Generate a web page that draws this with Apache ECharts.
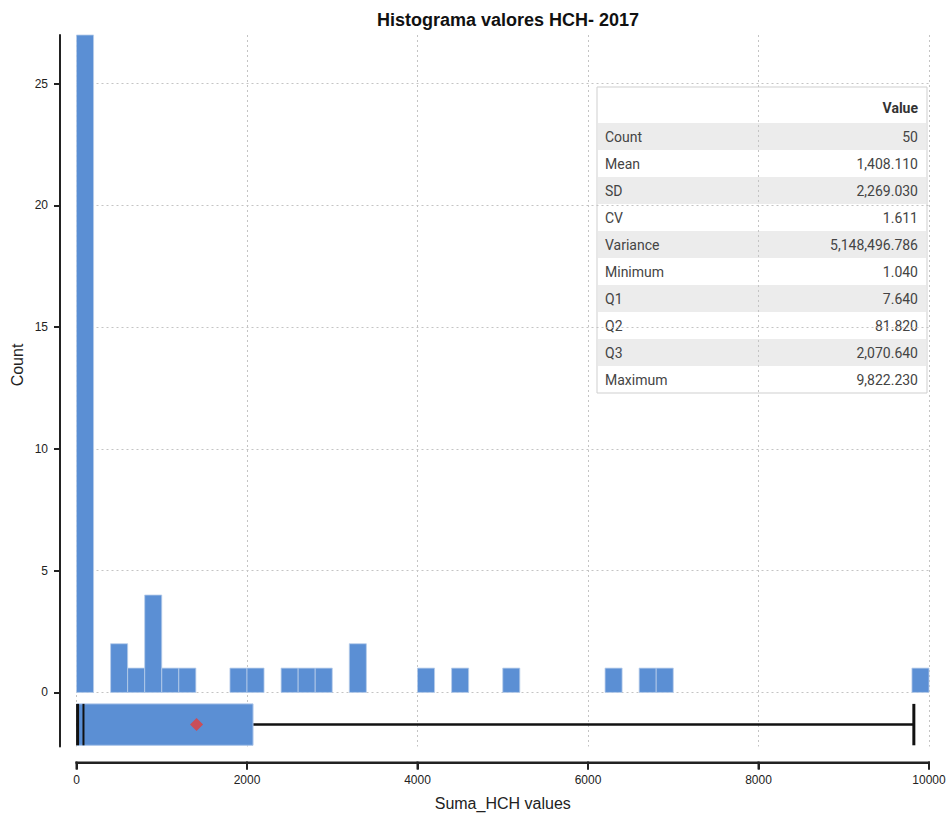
<!DOCTYPE html>
<html>
<head>
<meta charset="utf-8">
<script src="https://cdn.jsdelivr.net/npm/echarts@6/dist/echarts.min.js"></script>
<style>
  html, body { margin: 0; padding: 0; background: #fff; }
  #chart { width: 950px; height: 814px; }
</style>
</head>
<body>
<div id="chart"></div>
<script>
// histogram bins (width 200, start of each non-empty bin) and counts
const binWidth = 200
const binStart = [0, 400, 600, 800, 1000, 1200, 1800, 2000, 2400, 2600, 2800, 3200, 4000, 4400, 5000, 6200, 6600, 6800, 9800]
const binCount = [27, 2, 1, 4, 1, 1, 1, 1, 1, 1, 1, 2, 1, 1, 1, 1, 1, 1, 1]

// boxplot: min, q1, median, q3, max and the mean
const boxStats = [1.04, 7.64, 81.82, 2070.64, 9822.23]
const meanValue = 1408.11

// summary table
const statLabels = ['Count', 'Mean', 'SD', 'CV', 'Variance', 'Minimum', 'Q1', 'Q2', 'Q3', 'Maximum']
const statValues = ['50', '1,408.110', '2,269.030', '1.611', '5,148,496.786', '1.040', '7.640', '81.820', '2,070.640', '9,822.230']

const xTicks = [0, 2000, 4000, 6000, 8000, 10000]
const yTicks = [0, 5, 10, 15, 20, 25]

const blue = '#5b8fd4'
const axisColor = '#222'
const font = 'Liberation Sans, Arial, sans-serif'

const chart = echarts.init(document.getElementById('chart'), null, { renderer: 'svg' })

// table graphic
const tLeft = 597, tTop = 87, tWidth = 330, headH = 36, rowH = 27
const tableChildren = [{
  type: 'rect',
  shape: { x: 0, y: 0, width: tWidth, height: headH + rowH * statLabels.length },
  style: { fill: '#fff', stroke: '#cfcfcf', lineWidth: 1 }
}, {
  type: 'text',
  style: { x: tWidth - 9, y: 21, text: 'Value', align: 'right', verticalAlign: 'middle',
    font: 'bold 14px Roboto, sans-serif', fill: '#333' }
}]
statLabels.forEach((lab, i) => {
  const y = headH + i * rowH
  if (i % 2 === 0) {
    tableChildren.push({
      type: 'rect',
      shape: { x: 1, y: y, width: tWidth - 2, height: rowH },
      style: { fill: '#ececec' }
    })
  }
  tableChildren.push({
    type: 'text',
    style: { x: 8, y: y + 13.5, text: lab, align: 'left', verticalAlign: 'middle',
      font: '14px Roboto, sans-serif', fill: '#444' }
  })
  tableChildren.push({
    type: 'text',
    style: { x: tWidth - 9, y: y + 13.5, text: statValues[i], align: 'right', verticalAlign: 'middle',
      font: '14px Roboto, sans-serif', fill: '#444' }
  })
})

const boxY = -1.32
const boxHalf = 0.85
const yMin = -2.22
const xOffset = 16

const option = {
  animation: false,
  title: {
    text: 'Histograma valores HCH- 2017',
    left: 503,
    textAlign: 'center',
    top: 6,
    textStyle: { fontFamily: font, fontSize: 18, fontWeight: 'bold', color: '#111' }
  },
  grid: { left: 76.5, right: 21, top: 35, bottom: 67.5, outerBoundsMode: 'none' },
  xAxis: {
    type: 'value',
    min: 0,
    max: 10000,
    interval: 2000,
    offset: xOffset,
    name: 'Suma_HCH values',
    nameLocation: 'middle',
    nameGap: 33,
    nameTextStyle: { fontFamily: font, fontSize: 16, color: '#222' },
    axisLine: { show: true, onZero: false, lineStyle: { color: axisColor, width: 2 } },
    axisTick: { show: true, length: 7, lineStyle: { color: axisColor, width: 2 } },
    axisLabel: { fontFamily: font, fontSize: 12, color: '#222', margin: 11,
      formatter: v => String(v) },
    splitLine: { show: true, lineStyle: { color: '#c4c4c4', type: [2, 3], width: 1 } }
  },
  yAxis: {
    type: 'value',
    min: yMin,
    max: 27,
    offset: 16.5,
    axisLine: { show: true, onZero: false, lineStyle: { color: axisColor, width: 2 } },
    axisTick: { show: true, length: 6, lineStyle: { color: axisColor, width: 2 },
      customValues: yTicks },
    axisLabel: { fontFamily: font, fontSize: 12, color: '#222', margin: 12,
      customValues: yTicks },
    splitLine: { show: true, lineStyle: { color: '#c4c4c4', type: [2, 3], width: 1 } }
  },
  graphic: [{
    type: 'text',
    x: 17,
    y: 365,
    rotation: Math.PI / 2,
    style: { text: 'Count', align: 'center', verticalAlign: 'middle',
      font: '16px ' + font, fill: '#222' }
  }, {
    type: 'group',
    x: tLeft,
    y: tTop,
    z: 100,
    children: tableChildren
  }],
  series: [{
    type: 'custom',
    name: 'hist',
    data: binStart.map((s, i) => [s, s + binWidth, binCount[i]]),
    renderItem: (params, api) => {
      const p0 = api.coord([api.value(0), api.value(2)])
      const p1 = api.coord([api.value(1), 0])
      return {
        type: 'rect',
        shape: { x: p0[0], y: p0[1], width: p1[0] - p0[0], height: p1[1] - p0[1] },
        style: { fill: blue, stroke: '#b8cdea', lineWidth: 0.8 }
      }
    }
  }, {
    type: 'custom',
    name: 'box',
    data: [boxStats],
    renderItem: (params, api) => {
      const top = boxY + boxHalf, bot = boxY - boxHalf
      const pMin = api.coord([api.value(0), boxY])
      const pQ1 = api.coord([api.value(1), top])
      const pMed = api.coord([api.value(2), boxY])
      const pQ3 = api.coord([api.value(3), bot])
      const pMax = api.coord([api.value(4), boxY])
      const yTop = pQ1[1], yBot = pQ3[1], yMid = pMin[1]
      const line = (x1, y1, x2, y2, w) => ({
        type: 'line',
        shape: { x1, y1, x2, y2 },
        style: { stroke: '#111', lineWidth: w }
      })
      return {
        type: 'group',
        children: [
          line(pMin[0], yMid, pQ1[0], yMid, 2.5),
          line(pQ3[0], yMid, pMax[0], yMid, 2.5),
          {
            type: 'rect',
            shape: { x: pQ1[0], y: yTop, width: pQ3[0] - pQ1[0], height: yBot - yTop },
            style: { fill: blue, stroke: '#a9c3e8', lineWidth: 1 }
          },
          line(pMed[0], yTop, pMed[0], yBot, 2),
          line(pMin[0] + 1, yTop, pMin[0] + 1, yBot, 3),
          line(pMax[0], yTop, pMax[0], yBot, 3)
        ]
      }
    }
  }, {
    type: 'scatter',
    name: 'mean',
    symbol: 'diamond',
    symbolSize: 13,
    itemStyle: { color: '#e53d3a' },
    data: [[meanValue, boxY]],
    z: 5
  }, {
    // x axis baseline and ticks, drawn through the axis scale, offset below the grid
    type: 'custom',
    name: 'xaxis',
    silent: true,
    clip: false,
    z: 10,
    data: xTicks.map(t => [t]),
    renderItem: (params, api) => {
      const p = api.coord([api.value(0), yMin])
      const y = p[1] + xOffset
      const children = [{
        type: 'rect',
        shape: { x: p[0] - 1, y: y - 1, width: 2, height: 8 },
        style: { fill: axisColor }
      }]
      if (params.dataIndex === 0) {
        const pEnd = api.coord([xTicks[xTicks.length - 1], yMin])
        children.push({
          type: 'rect',
          shape: { x: p[0] - 1, y: y - 1, width: pEnd[0] - p[0] + 2, height: 2 },
          style: { fill: axisColor }
        })
      }
      return { type: 'group', children: children }
    }
  }]
}

chart.setOption(option)
</script>
</body>
</html>
